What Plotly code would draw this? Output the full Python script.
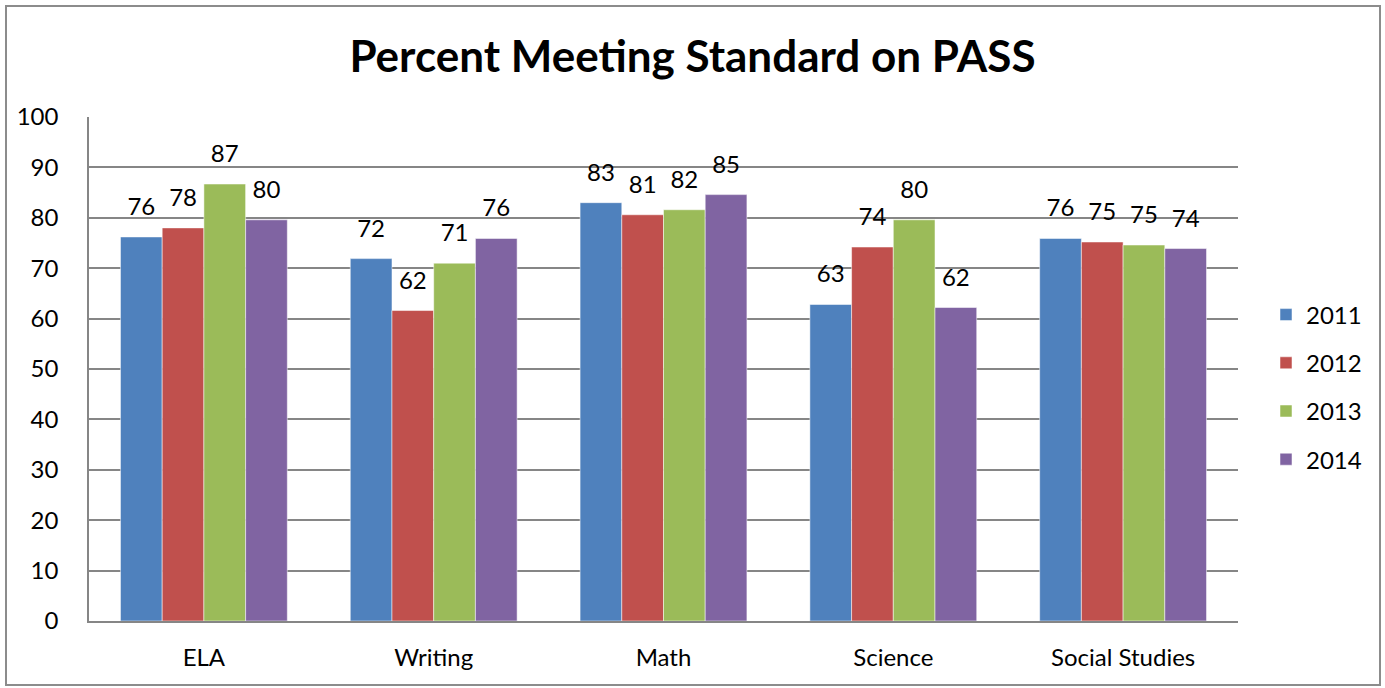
import plotly.graph_objects as go

categories = ["ELA", "Writing", "Math", "Science", "Social Studies"]
years = ["2011", "2012", "2013", "2014"]
v2011 = [76.2, 71.9, 83.0, 62.8, 75.9]
v2012 = [78.0, 61.6, 80.6, 74.2, 75.2]
v2013 = [86.7, 71.0, 81.6, 79.6, 74.6]
v2014 = [79.6, 75.9, 84.6, 62.2, 73.9]
colors = ["#4F81BD", "#C0504D", "#9BBB59", "#8064A2"]

series = [v2011, v2012, v2013, v2014]
FONT = "Lato"
FS = 24

fig = go.Figure()
for yr, vals, col in zip(years, series, colors):
    fig.add_trace(go.Bar(
        x=categories, y=vals, name=yr, legendgroup=yr,
        marker=dict(color=col, line=dict(color="rgba(255,255,255,0.5)", width=1)),
        hoverinfo="skip",
    ))
for yr, vals in zip(years, series):
    fig.add_trace(go.Scatter(
        x=categories, y=vals, mode="markers+text",
        text=[f"{v:.0f}" for v in vals], textposition="top center",
        textfont=dict(family=FONT, size=FS, color="black"),
        marker=dict(size=24, opacity=0),
        showlegend=False, hoverinfo="skip", cliponaxis=False,
    ))

L, R, T, B = 89, 147, 117, 67
W, H = 1385, 688
pw, ph = W - L - R, H - T - B

fig.update_layout(
    width=W, height=H,
    margin=dict(l=L, r=R, t=T, b=B),
    barmode="group", bargap=0.274, bargroupgap=0,
    scattermode="group",
    plot_bgcolor="white", paper_bgcolor="white",
    font=dict(family=FONT, size=FS, color="black"),
    title=dict(text="<b>Percent Meeting Standard on PASS</b>",
               x=0.5, xref="container", xanchor="center",
               y=1 - 57 / H, yanchor="middle", yref="container",
               font=dict(family=FONT, size=44, color="black")),
    legend=dict(x=(1266 - L) / pw, xanchor="left", y=(H - B - 387) / ph, yanchor="middle",
                font=dict(family=FONT, size=FS), tracegroupgap=14,
                bgcolor="rgba(0,0,0,0)"),
    showlegend=True,
)
fig.update_yaxes(range=[0, 100], dtick=10, showgrid=True, gridcolor="#868686", gridwidth=1.5,
                 showline=True, linecolor="#868686", linewidth=1.5, ticks="",
                 ticklabelstandoff=24, tickfont=dict(family=FONT, size=FS), zeroline=False)
fig.update_xaxes(showline=True, linecolor="#868686", linewidth=1.5, ticks="",
                 ticklabelstandoff=14, tickfont=dict(family=FONT, size=FS))

# outer chart border
fig.add_shape(type="rect", xref="paper", yref="paper",
              x0=(6 - L) / pw, x1=(1380 - L) / pw,
              y0=(H - B - 685) / ph, y1=(H - B - 6) / ph,
              line=dict(color="#8C8C8C", width=2), fillcolor="rgba(0,0,0,0)", layer="below")

fig.write_html("out.html", config={"displayModeBar": False},
               post_script="document.body.style.margin='0';document.body.style.overflow='hidden';")
